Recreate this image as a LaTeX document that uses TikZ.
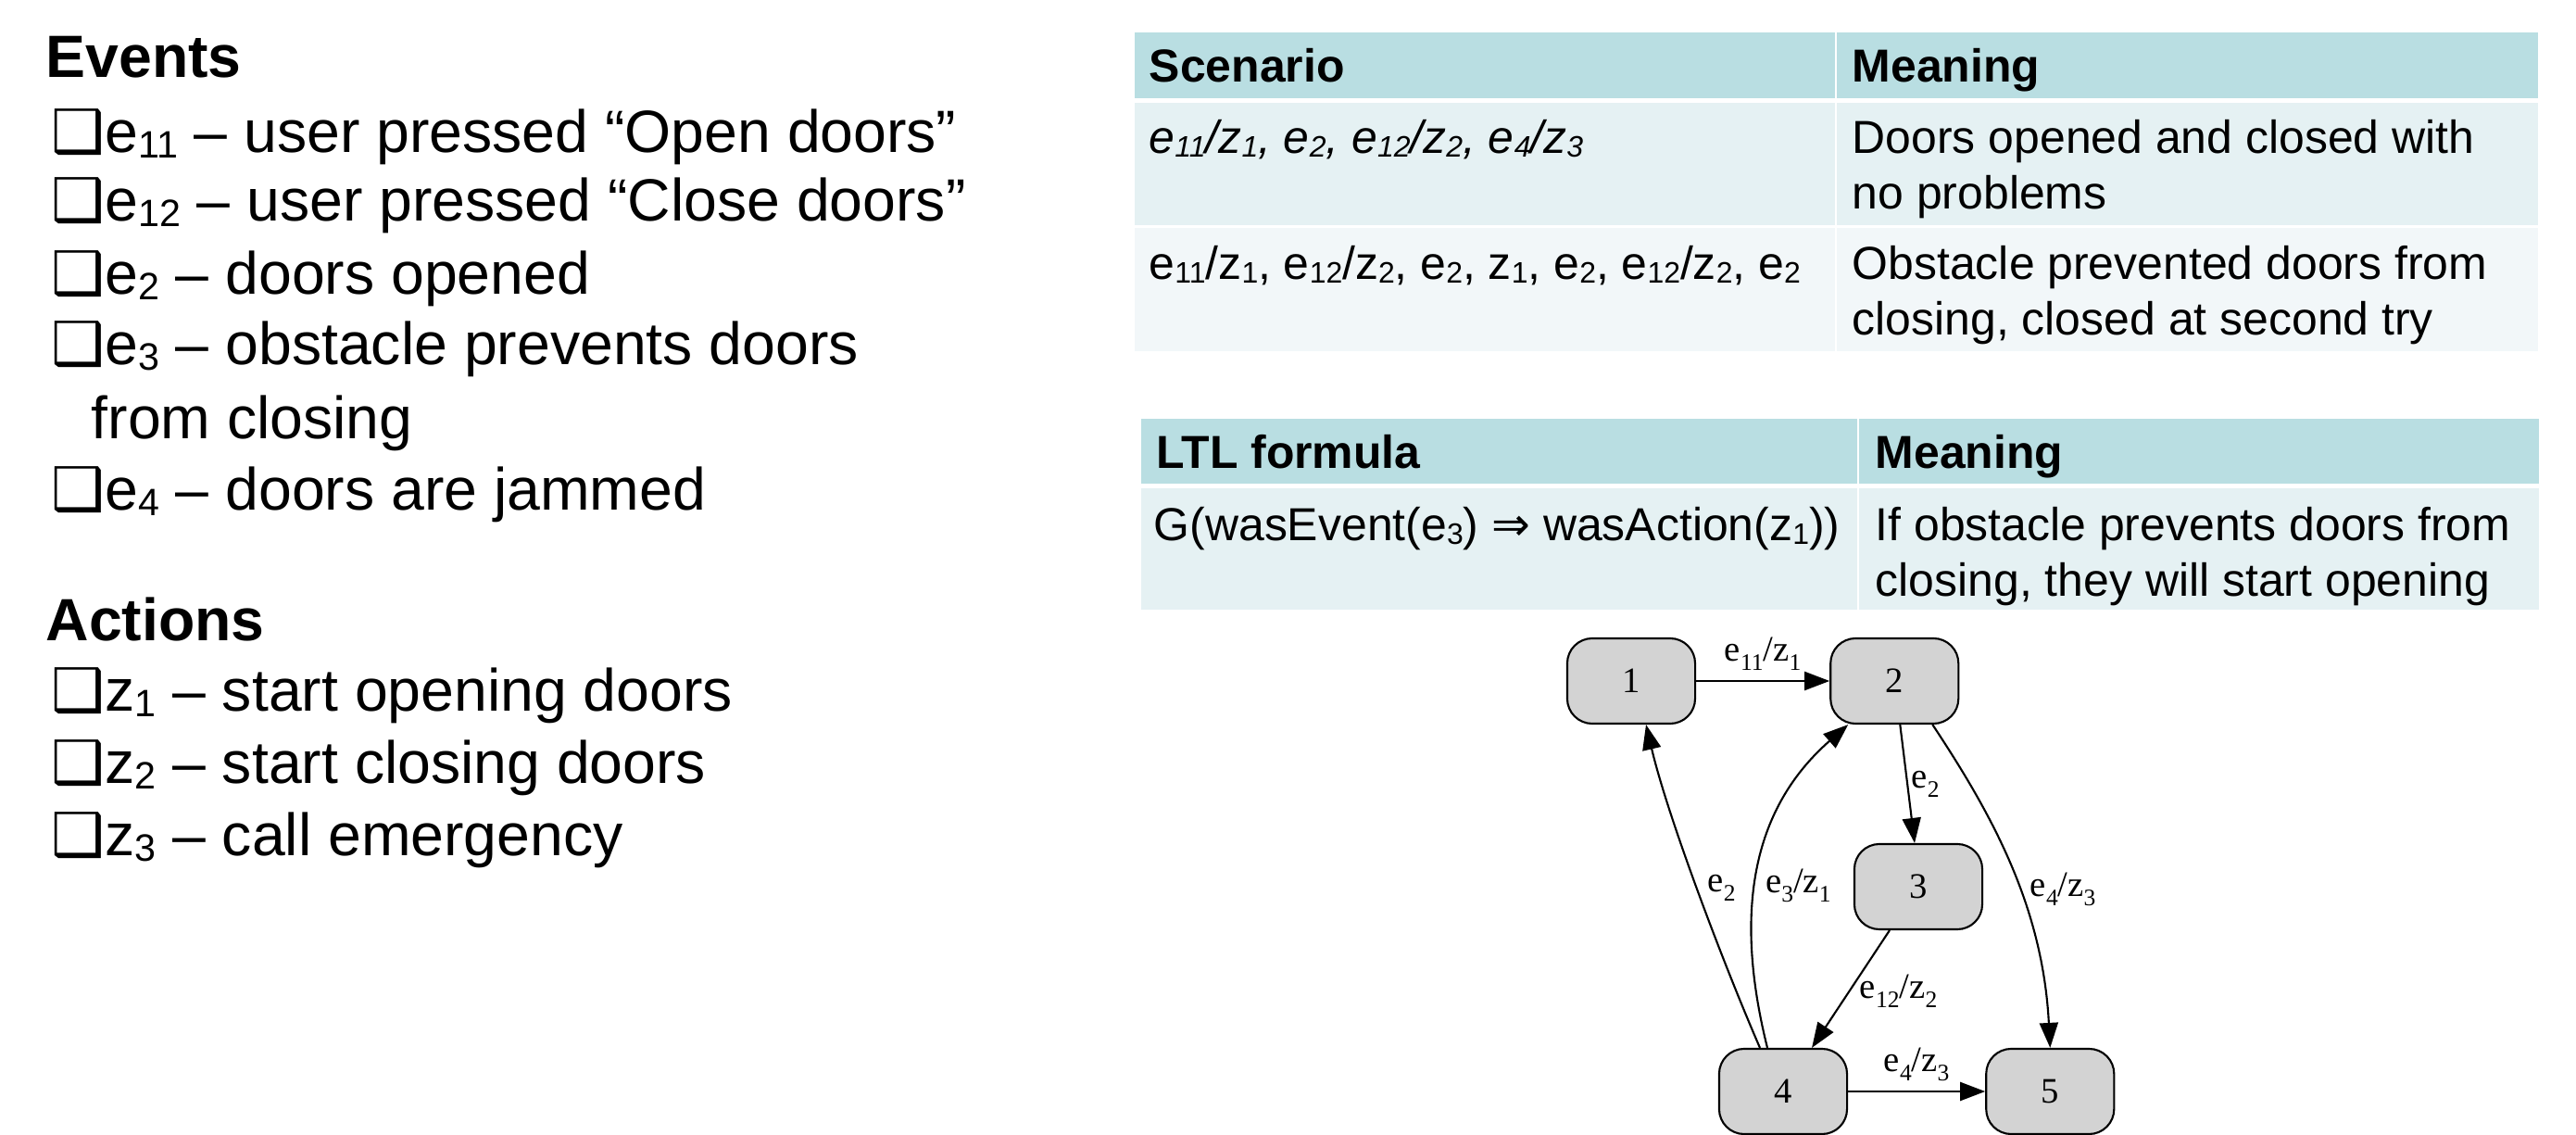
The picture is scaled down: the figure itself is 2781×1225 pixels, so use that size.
\documentclass[tikz,border=0pt]{standalone}
\usepackage{fontspec}
\setmainfont{Liberation Sans}
\newfontfamily\graphfont{Liberation Serif}
\newfontfamily\symfont{DejaVu Sans}
\usepackage{tikz}
\usetikzlibrary{arrows.meta, positioning}

\definecolor{hdrteal}{RGB}{185,222,226}
\definecolor{rowone}{RGB}{229,241,243}
\definecolor{rowtwo}{RGB}{242,247,249}
\definecolor{stategray}{RGB}{211,211,211}

% subscripts as the slide sets them
\newcommand{\sbs}[1]{\raisebox{-0.08em}{\scalebox{0.64}{#1}}}
\newcommand{\gsub}[1]{\raisebox{-0.26em}{\scalebox{0.66}{#1}}}
\newcommand{\bul}{{\symfont ❑}}

\begin{document}
\begin{tikzpicture}[x=0.01cm, y=-0.01cm,
        item/.style={anchor=base west, inner sep=0pt, font=\fontsize{18.3}{22}\selectfont},
        title/.style={anchor=base west, inner sep=0pt, font=\fontsize{18.3}{22}\selectfont\bfseries},
        cell/.style={anchor=base west, inner sep=0pt, align=left, font=\fontsize{14.2}{17.1}\selectfont},
        cellb/.style={cell, font=\fontsize{14.2}{17.1}\selectfont\bfseries},
        cellit/.style={cell, font=\fontsize{14.2}{17.1}\selectfont\itshape},
        state/.style={draw, rounded corners=0.27cm, fill=stategray, line width=0.6pt, minimum width=1.38cm, minimum height=0.92cm, font=\graphfont\fontsize{11}{13}\selectfont},
        edge/.style={-{Triangle[length=0.27cm, width=0.2cm]}, line width=0.6pt},
        lbl/.style={inner sep=3pt, font=\graphfont\fontsize{11}{13}\selectfont}
    ]
    \useasboundingbox (0,0) rectangle (2781,1225);

    % events and actions
    \node[title] (events) at (49,84) {Events};
    \node[item] (e11) at (55,165) {\bul e\sbs{11} – user pressed “Open doors”};
    \node[item] (e12) at (55,239) {\bul e\sbs{12} – user pressed “Close doors”};
    \node[item] (e2) at (55,318) {\bul e\sbs{2} – doors opened};
    \node[item] (e3) at (55,394) {\bul e\sbs{3} – obstacle prevents doors};
    \node[item] (e3b) at (98,474) {from closing};
    \node[item] (e4) at (55,551) {\bul e\sbs{4} – doors are jammed};
    \node[title] (actions) at (49,692) {Actions};
    \node[item] (z1) at (55,768) {\bul z\sbs{1} – start opening doors};
    \node[item] (z2) at (55,846) {\bul z\sbs{2} – start closing doors};
    \node[item] (z3) at (55,924) {\bul z\sbs{3} – call emergency};

    % scenarios table
    \fill[hdrteal] (1225,35) rectangle (1981,106);
    \fill[hdrteal] (1983,35) rectangle (2740,106);
    \fill[rowone] (1225,111) rectangle (1981,243);
    \fill[rowone] (1983,111) rectangle (2740,243);
    \fill[rowtwo] (1225,246) rectangle (1981,379);
    \fill[rowtwo] (1983,246) rectangle (2740,379);
    \node[cellb] (scen) at (1240,89) {Scenario};
    \node[cellb] (mean1) at (1999,89) {Meaning};
    \node[cellit] (sc1) at (1240,166) {e\sbs{11}/z\sbs{1}, e\sbs{2}, e\sbs{12}/z\sbs{2}, e\sbs{4}/z\sbs{3}};
    \node[cell] (mn1) at (1999,226) {Doors opened and closed with\\no problems};
    \node[cell] (sc2) at (1240,302) {e\sbs{11}/z\sbs{1}, e\sbs{12}/z\sbs{2}, e\sbs{2}, z\sbs{1}, e\sbs{2}, e\sbs{12}/z\sbs{2}, e\sbs{2}};
    \node[cell] (mn2) at (1999,362) {Obstacle prevented doors from\\closing, closed at second try};

    % LTL table
    \fill[hdrteal] (1232,452) rectangle (2005,522);
    \fill[hdrteal] (2007,452) rectangle (2741,522);
    \fill[rowone] (1232,527) rectangle (2005,658);
    \fill[rowone] (2007,527) rectangle (2741,658);
    \node[cellb] (ltl) at (1248,506) {LTL formula};
    \node[cellb] (mean2) at (2024,506) {Meaning};
    \node[cell] (frm) at (1245,584) {G(wasEvent(e\sbs{3}) {\symfont ⇒} wasAction(z\sbs{1}))};
    \node[cell] (mn3) at (2024,644) {If obstacle prevents doors from\\closing, they will start opening};

    % automaton
    \node[state] (s1) at (1761,735) {1};
    \node[state, right=1.44cm of s1] (s2) {2};
    \node[state] (s3) at (2071,957) {3};
    \node[state] (s4) at (1925,1178) {4};
    \node[state, right=1.48cm of s4] (s5) {5};

    \draw[edge] (s1) -- node[lbl, above] {e\gsub{11}/z\gsub{1}} (s2);
    \draw[edge] ([xshift=0.06cm]s2.south) -- node[lbl, right, inner sep=1pt] {e\gsub{2}} ([xshift=-0.04cm]s3.north);
    \draw[edge] ([xshift=0.41cm]s2.south) .. controls +(65,98) and +(-8,-152) .. node[lbl, right, pos=0.57] {e\gsub{4}/z\gsub{3}} (s5.north);
    \draw[edge] ([xshift=-0.31cm]s3.south) -- node[lbl, right, pos=0.52] {e\gsub{12}/z\gsub{2}} ([xshift=0.31cm]s4.north);
    \draw[edge] (s4) -- node[lbl, above] {e\gsub{4}/z\gsub{3}} (s5);
    \draw[edge] ([xshift=-0.25cm]s4.north) .. controls +(-40,-92) and +(23,98) .. node[lbl, right] {e\gsub{2}} ([xshift=0.16cm]s1.south);
    \draw[edge] ([xshift=-0.17cm]s4.north) .. controls +(-43,-172) and +(-89,78) .. node[lbl, right, pos=0.4] {e\gsub{3}/z\gsub{1}} ([xshift=-0.5cm]s2.south);
\end{tikzpicture}
\end{document}
